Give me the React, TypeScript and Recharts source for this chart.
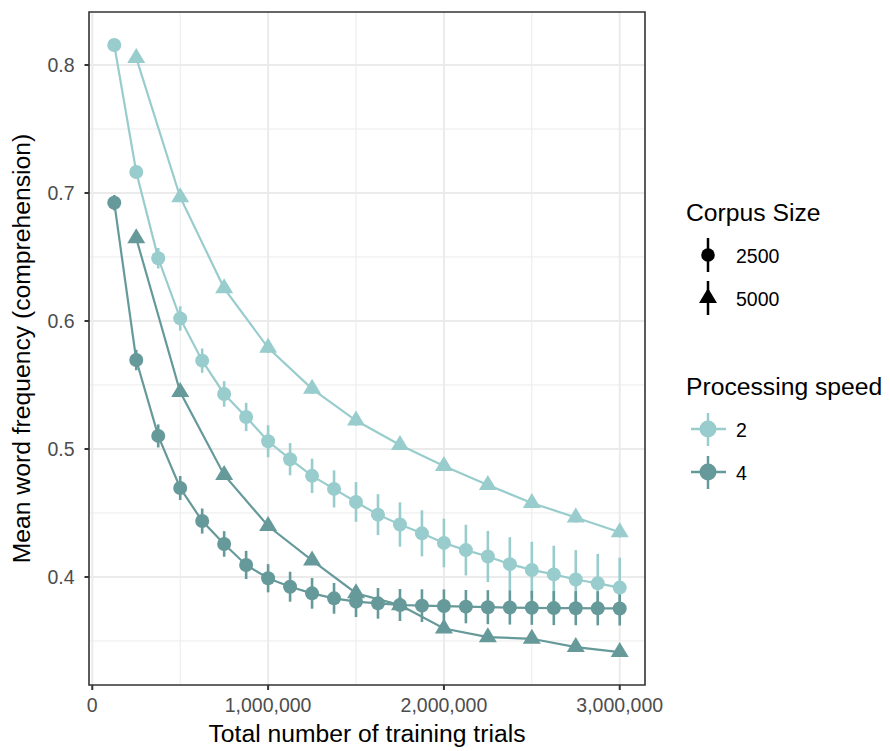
import React from 'react';
import {
    ComposedChart,
    Line,
    ErrorBar,
    XAxis,
    YAxis,
    CartesianGrid,
    ReferenceArea
} from 'recharts';

// training trials at which each corpus was sampled
const trials2500 = [
    125000, 250000, 375000, 500000, 625000, 750000, 875000, 1000000,
    1125000, 1250000, 1375000, 1500000, 1625000, 1750000, 1875000, 2000000,
    2125000, 2250000, 2375000, 2500000, 2625000, 2750000, 2875000, 3000000
];
const trials5000 = [
    250000, 500000, 750000, 1000000, 1250000, 1500000,
    1750000, 2000000, 2250000, 2500000, 2750000, 3000000
];

// speed 2
const speed2Corpus2500 = [
    0.8156, 0.7164, 0.649, 0.602, 0.569, 0.543, 0.525, 0.506,
    0.492, 0.479, 0.4688, 0.4586, 0.4487, 0.441, 0.4341, 0.4266,
    0.421, 0.416, 0.41, 0.4055, 0.402, 0.398, 0.395, 0.3917
];
const speed2Corpus2500Err = [
    0.002, 0.005, 0.008, 0.0095, 0.0095, 0.01, 0.011, 0.0125,
    0.0126, 0.0134, 0.0145, 0.0155, 0.016, 0.0173, 0.018, 0.019,
    0.0198, 0.02, 0.021, 0.022, 0.0224, 0.023, 0.023, 0.0234
];
const speed2Corpus5000 = [
    0.8055, 0.6967, 0.6255, 0.579, 0.547, 0.5222,
    0.5031, 0.4867, 0.4719, 0.4578, 0.4465, 0.4349
];
const speed2Corpus5000Err = [
    0.003, 0.003, 0.003, 0.004, 0.004, 0.004,
    0.004, 0.004, 0.004, 0.004, 0.004, 0.004
];

// speed 4
const speed4Corpus2500 = [
    0.6924, 0.5695, 0.5102, 0.4695, 0.4437, 0.4258, 0.4094, 0.399,
    0.3924, 0.3872, 0.3833, 0.3807, 0.3794, 0.3781, 0.3776, 0.3773,
    0.3768, 0.3764, 0.3761, 0.3759, 0.3757, 0.3756, 0.3755, 0.3754
];
const speed4Corpus2500Err = [
    0.006, 0.008, 0.009, 0.0094, 0.0098, 0.01, 0.011, 0.011,
    0.0117, 0.012, 0.012, 0.012, 0.012, 0.0125, 0.0128, 0.013,
    0.013, 0.0133, 0.0133, 0.0133, 0.0133, 0.0133, 0.0133, 0.0133
];
const speed4Corpus5000 = [
    0.6646, 0.5445, 0.4797, 0.4398, 0.4129, 0.3873,
    0.378, 0.3597, 0.353, 0.3517, 0.3452, 0.3413
];
const speed4Corpus5000Err = [
    0.003, 0.003, 0.003, 0.003, 0.003, 0.003,
    0.003, 0.003, 0.003, 0.003, 0.003, 0.003
];

const xTicks = [0, 1000000, 2000000, 3000000];
const xMinor = [500000, 1500000, 2500000];
const yTicks = [0.4, 0.5, 0.6, 0.7, 0.8];
const yMinor = [0.35, 0.45, 0.55, 0.65, 0.75];

const X_DOMAIN: [number, number] = [-18750, 3143750];
const Y_DOMAIN: [number, number] = [0.3156, 0.8414];

const LIGHT = '#99CCCC';
const DARK = '#669999';
const FONT = '"Liberation Sans", Arial, Helvetica, sans-serif';

const toRows = (xs: number[], ys: number[], errs: number[]) =>
    xs.map((x, i) => ({ x, y: ys[i], err: errs[i] }));

const series = [
    { id: 's2c25', rows: toRows(trials2500, speed2Corpus2500, speed2Corpus2500Err), color: LIGHT, shape: 'circle' },
    { id: 's2c50', rows: toRows(trials5000, speed2Corpus5000, speed2Corpus5000Err), color: LIGHT, shape: 'triangle' },
    { id: 's4c25', rows: toRows(trials2500, speed4Corpus2500, speed4Corpus2500Err), color: DARK, shape: 'circle' },
    { id: 's4c50', rows: toRows(trials5000, speed4Corpus5000, speed4Corpus5000Err), color: DARK, shape: 'triangle' }
];

const triPoints = (cx: number, cy: number, w = 18, h = 15) =>
    `${cx},${cy - (h * 2) / 3} ${cx + w / 2},${cy + h / 3} ${cx - w / 2},${cy + h / 3}`;

const makeDot = (color: string, shape: string) => (props: any) => {
    const { cx, cy, index } = props;
    if (cx == null || cy == null) return <g key={index} />;
    if (shape === 'triangle') {
        return <polygon key={index} points={triPoints(cx, cy)} fill={color} />;
    }
    return <circle key={index} cx={cx} cy={cy} r={7} fill={color} />;
};

const XTick = (props: any) => {
    const { x, y, payload } = props;
    return (
        <text x={x} y={y + 22} textAnchor="middle" fill="#4D4D4D" fontSize={19.5} fontFamily={FONT}>
            {Number(payload.value).toLocaleString('en-US')}
        </text>
    );
};

const YTick = (props: any) => {
    const { x, y, payload } = props;
    return (
        <text x={x} y={y + 7.5} textAnchor="end" fill="#4D4D4D" fontSize={19.5} fontFamily={FONT}>
            {Number(payload.value).toFixed(1)}
        </text>
    );
};

function LegendOverlay() {
    return (
        <svg
            width={890}
            height={751}
            style={{ position: 'absolute', left: 0, top: 0, pointerEvents: 'none' }}
            fontFamily={FONT}
        >
            <text x={686} y={221} fontSize={24.7} fill="#000">Corpus Size</text>
            <line x1={708} x2={708} y1={238} y2={272} stroke="#000" strokeWidth={2.5} />
            <circle cx={708} cy={255} r={6.8} fill="#000" />
            <text x={736} y={262.5} fontSize={19.5} fill="#000">2500</text>
            <line x1={708} x2={708} y1={281} y2={315} stroke="#000" strokeWidth={2.5} />
            <polygon points={triPoints(708, 298)} fill="#000" />
            <text x={736} y={306} fontSize={19.5} fill="#000">5000</text>

            <text x={686} y={395} fontSize={24.7} fill="#000">Processing speed</text>
            <line x1={691} x2={726} y1={429} y2={429} stroke={LIGHT} strokeWidth={2.5} />
            <line x1={708} x2={708} y1={413} y2={446} stroke={LIGHT} strokeWidth={2.5} />
            <circle cx={708} cy={429} r={8.5} fill={LIGHT} />
            <text x={736} y={436.5} fontSize={19.5} fill="#000">2</text>
            <line x1={691} x2={726} y1={472} y2={472} stroke={DARK} strokeWidth={2.5} />
            <line x1={708} x2={708} y1={456} y2={489} stroke={DARK} strokeWidth={2.5} />
            <circle cx={708} cy={472} r={8.5} fill={DARK} />
            <text x={736} y={480} fontSize={19.5} fill="#000">4</text>
        </svg>
    );
}

export default function App() {
    return (
        <div style={{ position: 'absolute', left: 0, top: 0, width: 890, height: 751, background: '#fff' }}>
            <ComposedChart
                width={890}
                height={751}
                margin={{ top: 12, right: 245, bottom: 0, left: 0 }}
            >
                <CartesianGrid
                    horizontalValues={yMinor}
                    verticalValues={xMinor}
                    stroke="#EBEBEB"
                    strokeWidth={1}
                    fill="none"
                />
                <CartesianGrid
                    horizontalValues={yTicks}
                    verticalValues={xTicks}
                    stroke="#EBEBEB"
                    strokeWidth={2}
                    fill="none"
                />
                <XAxis
                    type="number"
                    dataKey="x"
                    domain={X_DOMAIN}
                    ticks={xTicks}
                    allowDataOverflow
                    height={66}
                    axisLine={false}
                    tickLine={{ stroke: '#333', strokeWidth: 2 }}
                    tickSize={5}
                    tickMargin={0}
                    tick={<XTick />}
                    label={{
                        content: () => (
                            <text x={367} y={741.5} textAnchor="middle" fontSize={24.7} fontFamily={FONT} fill="#000">
                                Total number of training trials
                            </text>
                        )
                    }}
                />
                <YAxis
                    type="number"
                    domain={Y_DOMAIN}
                    ticks={yTicks}
                    allowDataOverflow
                    width={89}
                    axisLine={false}
                    tickLine={{ stroke: '#333', strokeWidth: 2 }}
                    tickSize={4.5}
                    tickMargin={10}
                    tick={<YTick />}
                    label={{
                        content: () => (
                            <text
                                x={30}
                                y={348.5}
                                transform="rotate(-90, 30, 348.5)"
                                textAnchor="middle"
                                fontSize={24.7}
                                fontFamily={FONT}
                                fill="#000"
                            >
                                Mean word frequency (comprehension)
                            </text>
                        )
                    }}
                />
                {series.map((s) => (
                    <Line
                        key={`line-${s.id}`}
                        data={s.rows}
                        dataKey="y"
                        type="linear"
                        stroke={s.color}
                        strokeWidth={2.2}
                        dot={false}
                        activeDot={false}
                        isAnimationActive={false}
                    />
                ))}
                {series.map((s) => (
                    <Line
                        key={`pts-${s.id}`}
                        data={s.rows}
                        dataKey="y"
                        type="linear"
                        stroke="none"
                        dot={makeDot(s.color, s.shape)}
                        activeDot={false}
                        isAnimationActive={false}
                    >
                        <ErrorBar dataKey="err" direction="y" width={0} stroke={s.color} strokeWidth={2.6} />
                    </Line>
                ))}
                <ReferenceArea
                    x1={X_DOMAIN[0]}
                    x2={X_DOMAIN[1]}
                    y1={Y_DOMAIN[0]}
                    y2={Y_DOMAIN[1]}
                    fill="none"
                    fillOpacity={0}
                    stroke="#333"
                    strokeWidth={1.6}
                    ifOverflow="visible"
                />
            </ComposedChart>
            <LegendOverlay />
        </div>
    );
}
